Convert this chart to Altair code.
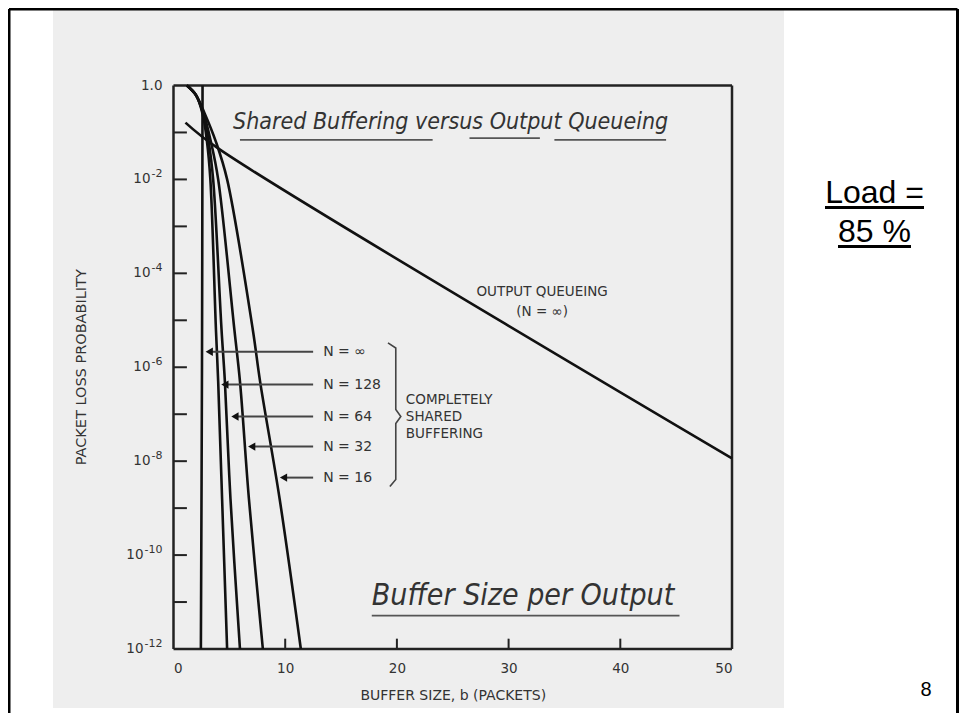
import altair as alt
import pandas as pd

# ---------------- data (b = buffer size in packets, logp = log10 packet loss probability)
oq_b = [1.07, 4.0, 50.0]
oq_logp = [-0.79, -1.34, -7.94]

ninf_b = [2.6, 2.55, 2.45]
ninf_logp = [0.0, -6.0, -12.0]

shared_logp = [0.0, -0.2, -0.6, -1.2, -2.0, -5.2, -6.3, -8.8, -12.0]
n128_b = [1.2, 2.0, 2.6, 3.0, 3.3, 3.8, 4.0, 4.35, 4.8]
n64_b = [1.2, 2.0, 2.65, 3.15, 3.55, 4.3, 4.6, 5.1, 5.95]
n32_b = [1.2, 2.0, 2.7, 3.35, 4.0, 5.45, 5.95, 6.75, 8.0]
n16_b = [1.2, 2.0, 2.8, 3.8, 4.8, 7.1, 7.75, 9.5, 11.4]

arrow_labels = ["N = \u221e", "N = 128", "N = 64", "N = 32", "N = 16"]
arrow_logp = [-5.67, -6.37, -7.05, -7.69, -8.35]
arrow_head_b = [3.2, 4.6, 5.5, 7.0, 9.85]
arrow_tail_b = 12.5
arrow_label_b = 13.4

brace_b = [19.2, 19.9, 19.9, 20.35, 19.9, 19.9, 19.37]
brace_logp = [-5.48, -5.59, -6.9, -7.05, -7.2, -8.39, -8.54]

group_lines = ["COMPLETELY", "SHARED", "BUFFERING"]
group_logp = [-6.69, -7.05, -7.43]
group_b = 20.8

oq_text = ["OUTPUT QUEUEING", "(N = \u221e)"]
oq_text_logp = [-4.39, -4.82]
oq_text_b = 33.0

y_label_values = [0, -2, -4, -6, -8, -10, -12]
y_label_base = ["1.0", "10", "10", "10", "10", "10", "10"]
y_label_exp = ["", "-2", "-4", "-6", "-8", "-10", "-12"]
x_tick_values = [0, 10, 20, 30, 40, 50]
y_minor_ticks = list(range(-11, 0))
x_inner_ticks = [10, 20, 30, 40]

title_hand = "Shared Buffering versus Output Queueing"
note_hand = "Buffer Size per Output"
y_title = "PACKET LOSS PROBABILITY"

# ---------------- tables
rows = []
for name, bs, ps in [("oq", oq_b, oq_logp), ("inf", ninf_b, ninf_logp),
                     ("128", n128_b, shared_logp), ("64", n64_b, shared_logp),
                     ("32", n32_b, shared_logp), ("16", n16_b, shared_logp)]:
    for i, (b, p) in enumerate(zip(bs, ps)):
        rows.append({"series": name, "b": b, "logp": p, "o": i})
curves = pd.DataFrame(rows)

arrows = pd.DataFrame({"b": arrow_head_b, "b2": [arrow_tail_b] * 5,
                       "logp": arrow_logp, "text": arrow_labels,
                       "bl": [arrow_label_b] * 5})
brace = pd.DataFrame({"b": brace_b, "logp": brace_logp, "o": list(range(len(brace_b)))})
group = pd.DataFrame({"b": [group_b] * 3, "logp": group_logp, "text": group_lines})
oqt = pd.DataFrame({"b": [oq_text_b] * 2, "logp": oq_text_logp, "text": oq_text})
ylab = pd.DataFrame({"logp": y_label_values, "base": y_label_base, "exp": y_label_exp})

frame = pd.DataFrame({"b": [0, 50, 0, 0], "b2": [0, 50, 50, 50],
                      "logp": [-12, -12, 0, -12], "logp2": [0, 0, 0, -12]})
yt = pd.DataFrame({"b": [0] * len(y_minor_ticks), "b2": [1.2] * len(y_minor_ticks),
                   "logp": y_minor_ticks})
xt = pd.DataFrame({"b": x_inner_ticks, "logp": [-12] * 4, "logp2": [-11.78] * 4})

hand = pd.DataFrame({"b": [5.33, 17.75], "logp": [-0.78, -10.88],
                     "text": [title_hand, note_hand], "size": [23, 30]})
underl = pd.DataFrame({"b": [5.95, 26.5, 34.1, 17.75], "b2": [23.2, 32.8, 44.1, 45.3],
                       "logp": [-1.16, -1.12, -1.16, -11.29]})

# ---------------- encodings
X = alt.X("b:Q", scale=alt.Scale(domain=[0, 50], nice=False, zero=False),
          axis=alt.Axis(values=x_tick_values, ticks=False, tickSize=0, domain=False,
                        grid=False, labelPadding=12, labelFontSize=13.5,
                        labelFont="DejaVu Sans", labelColor="#333",
                        title="BUFFER SIZE, b (PACKETS)", titleFont="DejaVu Sans",
                        titleFontSize=14, titleFontWeight="normal", titleColor="#333",
                        titlePadding=14, zindex=2))
Y = alt.Y("logp:Q", scale=alt.Scale(domain=[-12, 0], nice=False, zero=False), axis=None)

one = pd.DataFrame({"a": [0]})
bg = alt.Chart(one).mark_rect(color="#eeeeee").encode(
    x=alt.value(-120.5), x2=alt.value(610.5), y=alt.value(-77.5), y2=alt.value(622.5))
border_l = alt.Chart(one).mark_rule(color="black", strokeWidth=3).encode(
    x=alt.value(-164.5), y=alt.value(-76.5), y2=alt.value(627.5))
border_t = alt.Chart(one).mark_rule(color="black", strokeWidth=3).encode(
    y=alt.value(-76.5), x=alt.value(-164.5), x2=alt.value(784))
border_r = alt.Chart(one).mark_rule(color="black", strokeWidth=3).encode(
    x=alt.value(784), y=alt.value(-76.5), y2=alt.value(627.5))

frame_l = alt.Chart(frame).mark_rule(color="#222", strokeWidth=2.5).encode(
    x=X, x2="b2:Q", y=Y, y2="logp2:Q")
yt_l = alt.Chart(yt).mark_rule(color="#222", strokeWidth=2).encode(x=X, x2="b2:Q", y=Y)
xt_l = alt.Chart(xt).mark_rule(color="#222", strokeWidth=2).encode(x=X, y=Y, y2="logp2:Q")

ylab_exp = alt.Chart(ylab).mark_text(align="right", baseline="middle", fontSize=11,
                                     font="DejaVu Sans", color="#333", dy=-5).encode(
    x=alt.value(-11), y=Y, text="exp:N")
ylab_base = alt.Chart(ylab).transform_calculate(
    xb="datum.exp == '' ? -11 : -12 - (7 * length(datum.exp) - 3)"
).mark_text(align="right", baseline="middle", fontSize=13.5, font="DejaVu Sans",
            color="#333").encode(
    x=alt.X("xb:Q", scale=None), y=Y, text="base:N")
ytitle = alt.Chart(one).mark_text(text=y_title, angle=270, fontSize=14.5,
                                  font="DejaVu Sans", color="#333", align="center",
                                  baseline="middle").encode(
    x=alt.value(-91.5), y=alt.value(281.75))

curve_l = alt.Chart(curves).mark_line(color="#111", strokeWidth=2.6,
                                      interpolate="catmull-rom").encode(
    x=X, y=Y, detail="series:N", order="o:Q")

arrow_shaft = alt.Chart(arrows).mark_rule(color="#444", strokeWidth=2).encode(
    x=X, x2="b2:Q", y=Y)
arrow_head = alt.Chart(arrows).mark_point(shape="triangle-left", filled=True, size=70,
                                          color="#111", opacity=1).encode(x=X, y=Y)
arrow_text = alt.Chart(arrows).mark_text(align="left", baseline="middle", fontSize=14,
                                         font="DejaVu Sans", color="#333").encode(
    x=alt.X("bl:Q", scale=alt.Scale(domain=[0, 50], nice=False)), y=Y, text="text:N")

brace_l = alt.Chart(brace).mark_line(color="#444", strokeWidth=1.6).encode(
    x=X, y=Y, order="o:Q")
group_t = alt.Chart(group).mark_text(align="left", baseline="middle", fontSize=13.5,
                                     font="DejaVu Sans", color="#333").encode(
    x=X, y=Y, text="text:N")
oq_t = alt.Chart(oqt).mark_text(align="center", baseline="middle", fontSize=13.5,
                                font="DejaVu Sans", color="#333").encode(
    x=X, y=Y, text="text:N")

hand_t = alt.Chart(hand).mark_text(align="left", baseline="middle", fontStyle="italic",
                                   font="DejaVu Sans Condensed, DejaVu Sans",
                                   color="#333").encode(
    x=X, y=Y, text="text:N", size=alt.Size("size:Q", scale=None, legend=None))
underl_l = alt.Chart(underl).mark_rule(color="#555", strokeWidth=1.8).encode(
    x=X, x2="b2:Q", y=Y)

load1 = alt.Chart(one).mark_text(text="Load =", fontSize=32, font="Liberation Sans",
                                 align="center", baseline="alphabetic", color="black").encode(
    x=alt.value(701), y=alt.value(117.5))
load2 = alt.Chart(one).mark_text(text="85 %", fontSize=32, font="Liberation Sans",
                                 align="center", baseline="alphabetic", color="black").encode(
    x=alt.value(701), y=alt.value(156.5))
ul1 = alt.Chart(one).mark_rule(color="black", strokeWidth=3).encode(
    x=alt.value(651.5), x2=alt.value(750.5), y=alt.value(122))
ul2 = alt.Chart(one).mark_rule(color="black", strokeWidth=3).encode(
    x=alt.value(664.5), x2=alt.value(737.5), y=alt.value(161))
page_no = alt.Chart(one).mark_text(text="8", fontSize=20, font="Liberation Sans",
                                   align="center", baseline="middle", color="black").encode(
    x=alt.value(752.5), y=alt.value(604.5))

chart = alt.layer(
    bg, border_l, border_t, border_r,
    frame_l, yt_l, xt_l, ylab_exp, ylab_base, ytitle,
    curve_l, arrow_shaft, arrow_head, arrow_text, brace_l, group_t, oq_t,
    hand_t, underl_l,
    load1, load2, ul1, ul2, page_no,
).properties(
    width=558.5, height=563.5,
    autosize=alt.AutoSizeParams(type="none"),
    padding={"left": 165.5, "top": 77.5, "right": 227, "bottom": 64},
    background="white",
).configure_view(stroke=None)

chart.save("out.html", embed_options={"renderer": "svg", "actions": False})
